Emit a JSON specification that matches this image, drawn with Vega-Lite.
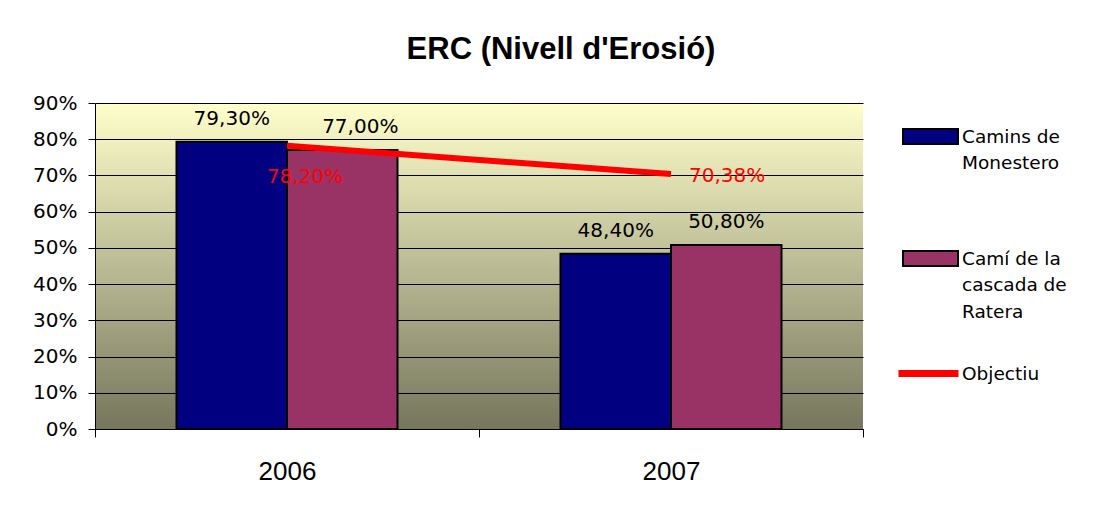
{
  "$schema": "https://vega.github.io/schema/vega-lite/v6.json",
  "width": 768,
  "height": 326,
  "autosize": {"type": "none"},
  "padding": {"left": 95, "top": 103, "right": 236, "bottom": 78},
  "background": "white",
  "title": {
    "text": "ERC (Nivell d'Erosió)",
    "font": "Liberation Sans",
    "fontSize": 31,
    "fontWeight": "bold",
    "color": "black",
    "anchor": "middle",
    "frame": "group",
    "baseline": "alphabetic",
    "offset": 3,
    "dx": 82
  },
  "config": {
    "locale": {"number": {"decimal": ",", "thousands": ".", "grouping": [3], "currency": ["", " €"]}},
    "view": {
      "stroke": null,
      "fill": {
        "gradient": "linear",
        "x1": 0, "y1": 0, "x2": 0, "y2": 1,
        "stops": [
          {"offset": 0, "color": "#FFFFCC"},
          {"offset": 1, "color": "#76765D"}
        ]
      }
    },
    "style": {"guide-label": {"lineHeight": 26.5}}
  },
  "datasets": {
    "bars": [
      {"year": "2006", "serie": "Camins de Monestero", "value": 0.793},
      {"year": "2006", "serie": "Camí de la cascada de Ratera", "value": 0.77},
      {"year": "2007", "serie": "Camins de Monestero", "value": 0.484},
      {"year": "2007", "serie": "Camí de la cascada de Ratera", "value": 0.508}
    ],
    "target": [
      {"year": "2006", "serie": "Objectiu", "value": 0.782},
      {"year": "2007", "serie": "Objectiu", "value": 0.7038}
    ]
  },
  "encoding": {
    "x": {
      "field": "year",
      "type": "nominal",
      "scale": {"paddingInner": 0, "paddingOuter": 0},
      "axis": {
        "title": null,
        "labelAngle": 0,
        "labelFont": "Liberation Sans",
        "labelFontSize": 26,
        "labelColor": "black",
        "domainColor": "black",
        "domainWidth": 1,
        "tickColor": "black",
        "tickSize": 8,
        "tickBand": "extent",
        "labelPadding": 21
      }
    },
    "y": {
      "field": "value",
      "type": "quantitative",
      "scale": {"domain": [0, 0.9], "nice": false, "zero": true},
      "axis": {
        "title": null,
        "values": [0, 0.1, 0.2, 0.3, 0.4, 0.5, 0.6, 0.7, 0.8, 0.9],
        "format": ".0%",
        "grid": true,
        "gridColor": "black",
        "gridOpacity": 1,
        "gridWidth": 1,
        "domainColor": "black",
        "tickColor": "black",
        "tickSize": 7,
        "labelPadding": 11,
        "labelFont": "DejaVu Sans",
        "labelFontSize": 20,
        "labelColor": "black"
      }
    }
  },
  "layer": [
    {
      "data": {"name": "bars"},
      "mark": {"type": "bar", "stroke": "black", "strokeWidth": 2},
      "encoding": {
        "xOffset": {"field": "serie", "type": "nominal", "sort": ["Camins de Monestero", "Camí de la cascada de Ratera"], "scale": {"paddingInner": 0, "paddingOuter": 0.7375}},
        "fill": {
          "field": "serie",
          "type": "nominal",
          "scale": {"domain": ["Camins de Monestero", "Camí de la cascada de Ratera"], "range": ["#000080", "#993366"]},
          "legend": {
            "title": null,
            "orient": "none",
            "legendX": 807,
            "legendY": 5,
            "padding": 0,
            "symbolType": "M-1,-0.27H1V0.27H-1Z",
            "symbolSize": 3025,
            "symbolStrokeColor": "black",
            "symbolStrokeWidth": 2,
            "symbolOpacity": 1,
            "labelFont": "DejaVu Sans",
            "labelFontSize": 18.5,
            "labelColor": "black",
            "labelOffset": 3,
            "labelLimit": 0,
            "labelBaseline": "middle",
            "rowPadding": 57,
            "labelExpr": "datum.label == 'Camins de Monestero' ? ['Camins de', 'Monestero'] : ['Camí de la', 'cascada de', 'Ratera']"
          }
        }
      }
    },
    {
      "data": {"name": "bars"},
      "transform": [{"filter": "!(datum.year == '2006' && datum.serie == 'Camí de la cascada de Ratera')"}],
      "mark": {"type": "text", "baseline": "alphabetic", "dy": -17, "font": "DejaVu Sans", "fontSize": 20, "color": "black"},
      "encoding": {
        "xOffset": {"field": "serie", "type": "nominal", "sort": ["Camins de Monestero", "Camí de la cascada de Ratera"], "scale": {"paddingInner": 0, "paddingOuter": 0.7375}},
        "text": {"field": "value", "type": "quantitative", "format": ".2%"}
      }
    },
    {
      "data": {"name": "bars"},
      "transform": [{"filter": "datum.year == '2006' && datum.serie == 'Camí de la cascada de Ratera'"}],
      "mark": {"type": "text", "baseline": "alphabetic", "dy": -17, "dx": 18, "font": "DejaVu Sans", "fontSize": 20, "color": "black"},
      "encoding": {
        "xOffset": {"field": "serie", "type": "nominal", "sort": ["Camins de Monestero", "Camí de la cascada de Ratera"], "scale": {"paddingInner": 0, "paddingOuter": 0.7375}},
        "text": {"field": "value", "type": "quantitative", "format": ".2%"}
      }
    },
    {
      "data": {"name": "target"},
      "mark": {"type": "line", "strokeWidth": 6, "strokeCap": "butt"},
      "encoding": {
        "stroke": {
          "field": "serie",
          "type": "nominal",
          "scale": {"domain": ["Objectiu"], "range": ["#FF0000"]},
          "legend": {
            "title": null,
            "orient": "none",
            "legendX": 800,
            "legendY": 237,
            "padding": 0,
            "symbolType": "stroke",
            "symbolSize": 3600,
            "symbolStrokeWidth": 7,
            "labelFont": "DejaVu Sans",
            "labelFontSize": 18.5,
            "labelColor": "black",
            "labelOffset": 0,
            "labelBaseline": "middle"
          }
        }
      }
    },
    {
      "data": {"name": "target"},
      "transform": [{"filter": "datum.year == '2006'"}],
      "mark": {"type": "text", "align": "center", "baseline": "alphabetic", "dx": 18, "dy": 37, "font": "DejaVu Sans", "fontSize": 20, "color": "#FF0000"},
      "encoding": {"text": {"field": "value", "type": "quantitative", "format": ".2%"}}
    },
    {
      "data": {"name": "target"},
      "transform": [{"filter": "datum.year == '2007'"}],
      "mark": {"type": "text", "align": "left", "baseline": "alphabetic", "dx": 18, "dy": 8, "font": "DejaVu Sans", "fontSize": 20, "color": "#FF0000"},
      "encoding": {"text": {"field": "value", "type": "quantitative", "format": ".2%"}}
    }
  ]
}
